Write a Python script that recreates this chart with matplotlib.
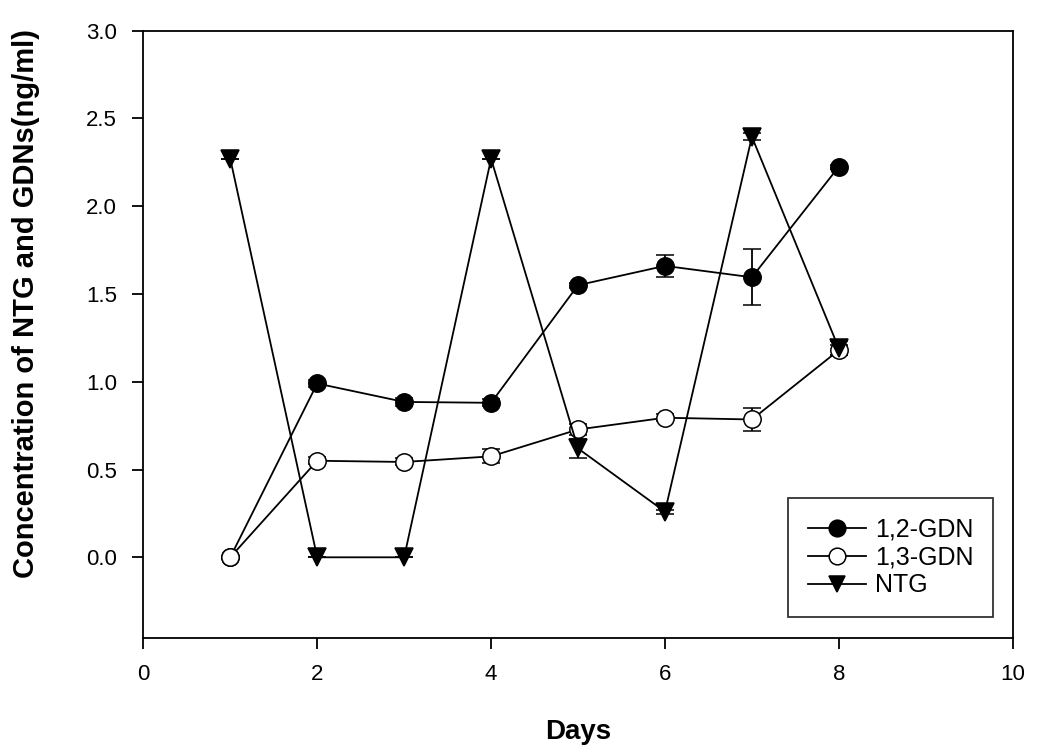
import matplotlib
matplotlib.use('Agg')
import matplotlib.pyplot as plt

plt.rcParams['font.family'] = ['Liberation Sans', 'DejaVu Sans']

days = [1, 2, 3, 4, 5, 6, 7, 8]

gdn12 = [0.0, 0.99, 0.885, 0.88, 1.55, 1.66, 1.595, 2.225]
gdn12_err = [0.0, 0.02, 0.025, 0.02, 0.015, 0.063, 0.16, 0.012]

gdn13 = [0.0, 0.55, 0.543, 0.575, 0.728, 0.795, 0.785, 1.18]
gdn13_err = [0.0, 0.02, 0.02, 0.04, 0.03, 0.02, 0.066, 0.03]

ntg = [2.27, 0.0, 0.0, 2.27, 0.62, 0.26, 2.395, 1.19]
ntg_err = [0.0, 0.0, 0.0, 0.0, 0.055, 0.012, 0.02, 0.04]

fig = plt.figure(figsize=(10.5, 7.56), dpi=100)
ax = fig.add_axes([0.1365, 0.156, 0.828, 0.8035])

common = dict(color='black', lw=1.3, elinewidth=1.3, capsize=6.5, capthick=1.3,
              markersize=12.5, markeredgecolor='black', markeredgewidth=1.1)

ax.errorbar(days, gdn12, yerr=gdn12_err, fmt='-o', markerfacecolor='black',
            label='1,2-GDN', **common)
ax.errorbar(days, gdn13, yerr=gdn13_err, fmt='-o', markerfacecolor='white',
            label='1,3-GDN', **common)
ax.errorbar(days, ntg, yerr=ntg_err, fmt='-v', markerfacecolor='black',
            label='NTG', **common)

ax.set_xlim(0, 10)
ax.set_ylim(-0.46, 3.0)
ax.set_xticks([0, 2, 4, 6, 8, 10])
ax.set_yticks([0.0, 0.5, 1.0, 1.5, 2.0, 2.5, 3.0])
ax.set_yticklabels(['0.0', '0.5', '1.0', '1.5', '2.0', '2.5', '3.0'])
ax.tick_params(direction='out', length=8, width=1.3, labelsize=16, pad=11)
for s in ax.spines.values():
    s.set_linewidth(1.3)

ax.set_xlabel('Days', fontsize=20, fontweight='bold', labelpad=24)
ax.set_ylabel('Concentration of NTG and GDNs(ng/ml)', fontsize=21,
              fontweight='bold')
# label sits a bit above the axes centre in the original
ax.yaxis.set_label_coords(0.038, 0.598, transform=fig.transFigure)

handles, labels = ax.get_legend_handles_labels()
handles = [h[0] for h in handles]
leg = ax.legend(handles, labels, loc='lower right', fontsize=18, frameon=True,
                fancybox=False, edgecolor='black', handlelength=2.3,
                borderpad=0.8, labelspacing=0.15, handletextpad=0.35,
                borderaxespad=0, bbox_to_anchor=(0.9775, 0.034))
leg.get_frame().set_linewidth(1.3)
for h in leg.legend_handles:
    h.set_markersize(12)

fig.savefig('out.png', dpi=100)
